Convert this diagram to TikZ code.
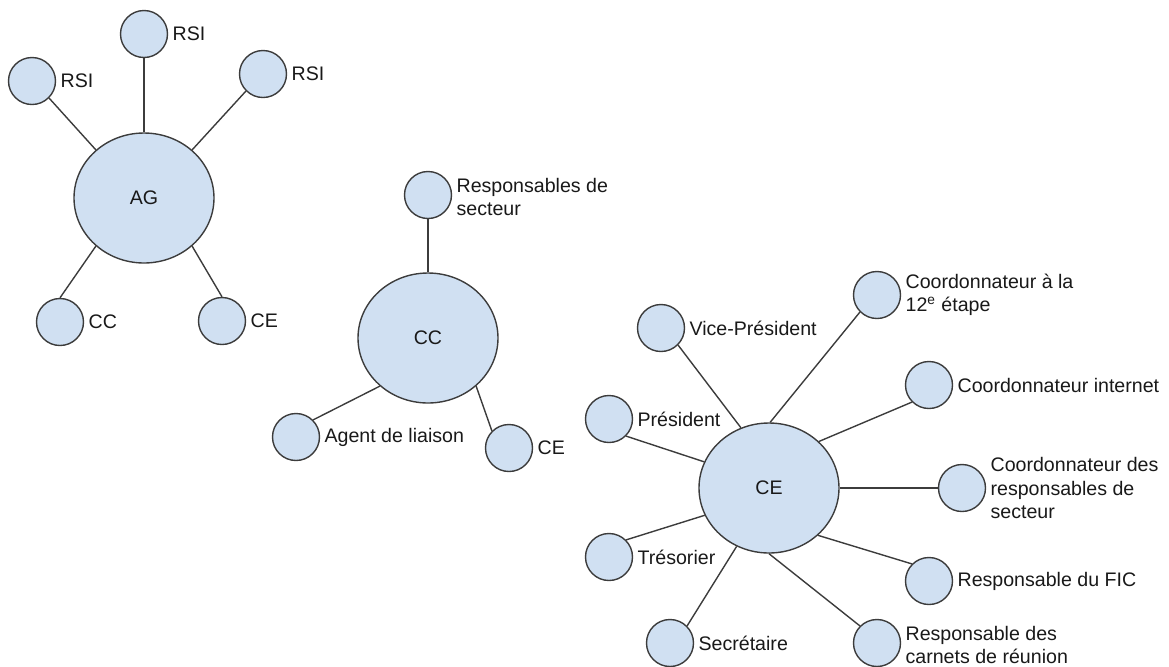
\documentclass[tikz,border=0pt]{standalone}
\usepackage{fontspec}
\setmainfont{Liberation Sans}
\definecolor{bulle}{RGB}{208,224,242}
\definecolor{trait}{RGB}{60,60,60}
\tikzset{
  grand/.style={ellipse, draw=trait, line width=0.7pt, fill=bulle, minimum width=70pt, minimum height=65pt, inner sep=0pt},
  petit/.style={circle, draw=trait, line width=0.7pt, fill=bulle, minimum size=23.5pt, inner sep=0pt},
  lien/.style={draw=trait, line width=0.7pt},
  etiq/.style={right, inner xsep=2pt, inner ysep=0pt, align=left}
}
\usetikzlibrary{shapes.geometric}
\begin{document}
\begin{tikzpicture}[x=0.5pt, y=-0.5pt, font=\fontsize{9.8}{11.8}\selectfont, text=black!90]
			\useasboundingbox (0,0) rectangle (1169,666);
			% AG et ses bulles
			\node[grand] (ag) at (144,198) {AG};
			\node[petit] (rsia) at (32,81) {};
			\node[petit] (rsib) at (144,34) {};
			\node[petit] (rsic) at (263,74) {};
			\node[petit] (cca) at (60,322) {};
			\node[petit] (cea) at (222,321) {};
			\draw[lien] (rsia.-45) -- (ag.135);
			\draw[lien] (rsib.south) -- (ag.north);
			\draw[lien] (rsic.225) -- (ag.45);
			\draw[lien] (cca.north) -- (ag.225);
			\draw[lien] (cea.north) -- (ag.-45);
			\node[etiq] (trsia) at (rsia.east) {RSI};
			\node[etiq] (trsib) at (rsib.east) {RSI};
			\node[etiq] (trsic) at (rsic.east) {RSI};
			\node[etiq] (tcca) at (cca.east) {CC};
			\node[etiq] (tcea) at (cea.east) {CE};
			% CC et ses bulles
			\node[grand] (cc) at (428,338) {CC};
			\node[petit] (rs) at (428,195) {};
			\node[petit] (al) at (296,437) {};
			\node[petit] (ceb) at (509,448) {};
			\draw[lien] (rs.south) -- (cc.north);
			\draw[lien] (al.45) -- (cc.225);
			\draw[lien] (ceb.135) -- (cc.-45);
			\node[etiq] (trs) at ([yshift=-1pt]rs.east) {Responsables de\\secteur};
			\node[etiq] (tal) at (al.east) {Agent de liaison};
			\node[etiq] (tceb) at (ceb.east) {CE};
			% CE et ses bulles
			\node[grand] (ce) at (769,488) {CE};
			\node[petit] (vp) at (661,328) {};
			\node[petit] (c12) at (877,295) {};
			\node[petit] (ci) at (929,385) {};
			\node[petit] (pr) at (609,419) {};
			\node[petit] (crs) at (962,488) {};
			\node[petit] (tr) at (609,557) {};
			\node[petit] (fic) at (929,581) {};
			\node[petit] (se) at (670,643) {};
			\node[petit] (cr) at (877,643) {};
			\draw[lien] (vp.-45) -- (ce.115);
			\draw[lien] (c12.225) -- (ce.89);
			\draw[lien] (ci.225) -- (ce.43);
			\draw[lien] (pr.-45) -- (ce.158);
			\draw[lien] (crs.west) -- (ce.east);
			\draw[lien] (tr.45) -- (ce.203);
			\draw[lien] (fic.135) -- (ce.-44);
			\draw[lien] (se.45) -- (ce.241);
			\draw[lien] (cr.135) -- (ce.south);
			\node[etiq] (tvp) at (vp.east) {Vice-Président};
			\node[etiq] (tc12) at (c12.east) {Coordonnateur à la\\12\textsuperscript{e} étape};
			\node[etiq] (tci) at (ci.east) {Coordonnateur internet};
			\node[etiq] (tpr) at (pr.east) {Président};
			\node[etiq] (tcrs) at (crs.east) {Coordonnateur des\\responsables de\\secteur};
			\node[etiq] (ttr) at (tr.east) {Trésorier};
			\node[etiq] (tfic) at (fic.east) {Responsable du FIC};
			\node[etiq] (tse) at (se.east) {Secrétaire};
			\node[etiq] (tcr) at ([yshift=-1pt]cr.east) {Responsable des\\carnets de réunion};
		\end{tikzpicture}
\end{document}
